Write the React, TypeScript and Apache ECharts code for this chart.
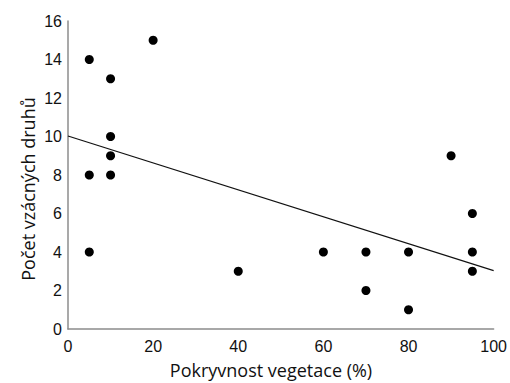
import React, { useEffect, useRef } from "react";
import * as echarts from "echarts";

const coverage = [5, 5, 5, 10, 10, 10, 10, 20, 40, 60, 70, 70, 80, 80, 90, 95, 95, 95];
const rareSpecies = [14, 8, 4, 13, 10, 9, 8, 15, 3, 4, 4, 2, 4, 1, 9, 6, 4, 3];
const trendRange = [0, 100];
const xTitle = "Pokryvnost vegetace (%)";
const yTitle = "Počet vzácných druhů";

function linearFit(xs: number[], ys: number[]) {
  const n = xs.length;
  const mx = xs.reduce((a, b) => a + b, 0) / n;
  const my = ys.reduce((a, b) => a + b, 0) / n;
  let sxy = 0;
  let sxx = 0;
  for (let i = 0; i < n; i++) {
    sxy += (xs[i] - mx) * (ys[i] - my);
    sxx += (xs[i] - mx) * (xs[i] - mx);
  }
  const slope = sxy / sxx;
  return { slope, intercept: my - slope * mx };
}

export default function App() {
  const ref = useRef<HTMLDivElement>(null);
  useEffect(() => {
    if (!ref.current) return;
    const chart = echarts.init(ref.current, null, { renderer: "svg" });
    const fit = linearFit(coverage, rareSpecies);
    const trend = trendRange.map((x) => [x, fit.intercept + fit.slope * x]);
    const titleStyle = { fontFamily: "Open Sans", fontSize: 18, fill: "#111" };
    chart.setOption({
      animation: false,
      backgroundColor: "#ffffff",
      grid: { left: 68, right: 13, top: 21, bottom: 54 },
      graphic: [
        {
          type: "text",
          x: 271,
          y: 370,
          style: { ...titleStyle, text: xTitle, textAlign: "center", textVerticalAlign: "middle" },
        },
        {
          type: "text",
          x: 28,
          y: 189,
          rotation: Math.PI / 2,
          style: { ...titleStyle, text: yTitle, textAlign: "center", textVerticalAlign: "middle" },
        },
      ],
      xAxis: {
        type: "value",
        min: 0,
        max: 100,
        interval: 20,
        axisLine: { show: true, lineStyle: { color: "#8c8c8c", width: 1.5 } },
        axisTick: { show: false },
        splitLine: { show: false },
        axisLabel: { fontFamily: "Liberation Sans", fontSize: 16, color: "#111", margin: 9 },
      },
      yAxis: {
        type: "value",
        min: 0,
        max: 16,
        interval: 2,
        axisLine: { show: true, lineStyle: { color: "#8c8c8c", width: 1.5 } },
        axisTick: { show: false },
        splitLine: { show: false },
        axisLabel: { fontFamily: "Liberation Sans", fontSize: 16, color: "#111", margin: 6 },
      },
      series: [
        {
          type: "line",
          data: trend,
          symbol: "none",
          lineStyle: { color: "#111", width: 1.2 },
          silent: true,
        },
        {
          type: "scatter",
          data: coverage.map((x, i) => [x, rareSpecies[i]]),
          symbol: "circle",
          symbolSize: 9,
          itemStyle: { color: "#000", opacity: 1 },
        },
      ],
    });
    return () => chart.dispose();
  }, []);
  return (
    <div
      ref={ref}
      style={{ position: "fixed", left: 0, top: 0, width: 510, height: 383, background: "#fff" }}
    />
  );
}
